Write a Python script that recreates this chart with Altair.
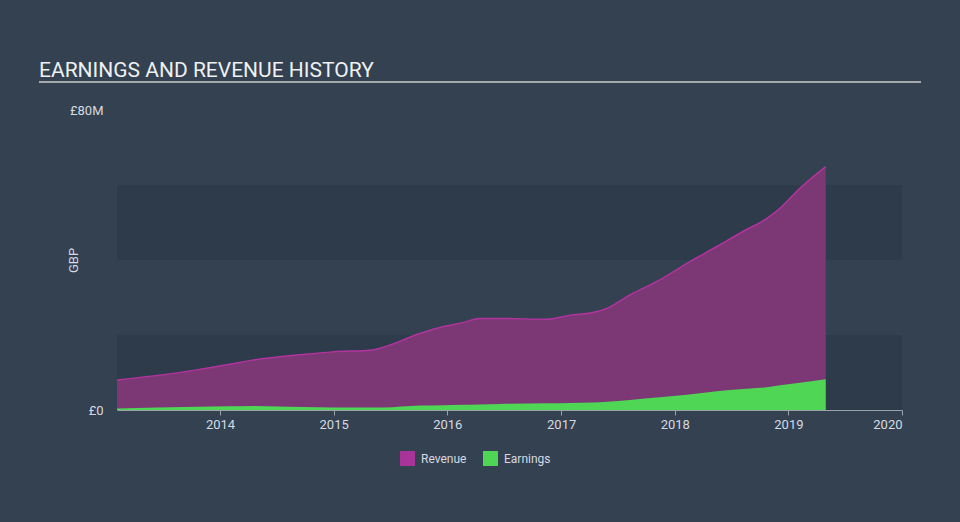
import altair as alt
import pandas as pd

dates = ["2013-02-04", "2013-10-19", "2014-02-01", "2014-04-16", "2014-09-24", "2014-12-29",
         "2015-05-06", "2015-06-08", "2015-10-05", "2015-12-18", "2016-02-20", "2016-04-15",
         "2016-06-18", "2016-11-16", "2017-01-29", "2017-04-13", "2017-05-28", "2017-08-10",
         "2017-11-14", "2018-02-09", "2018-05-16", "2018-08-08", "2018-10-24", "2018-12-05",
         "2019-02-07", "2019-05-01"]
revenue = [8.0, 10.7, 12.2, 13.3, 14.8, 15.5, 16.0, 16.7, 20.4, 22.2, 23.3, 24.4,
           24.4, 24.2, 25.3, 26.0, 27.1, 30.7, 34.7, 39.1, 43.6, 47.6, 51.1, 53.8, 59.1, 64.9]
earnings = [0.4, 0.9, 1.0, 1.1, 0.8, 0.7, 0.7, 0.7, 1.2, 1.3, 1.4, 1.5,
            1.6, 1.8, 1.9, 2.0, 2.2, 2.7, 3.4, 4.1, 5.0, 5.6, 6.1, 6.6, 7.3, 8.2]
series_names = ["Revenue", "Earnings"]
series_colors = ["#a8349a", "#4fd655"]
band_lo = [0, 40]
band_hi = [20, 60]
year_ticks = ["2014-01-01", "2015-01-01", "2016-01-01", "2017-01-01",
              "2018-01-01", "2019-01-01", "2020-01-01"]
x_domain = ["2013-02-04", "2020-01-01"]

M = 1_000_000
rows = []
for d, r, e in zip(dates, revenue, earnings):
    rows.append({"date": d, "series": "Revenue", "value": r * M})
    rows.append({"date": d, "series": "Earnings", "value": e * M})
df = pd.DataFrame(rows)
bands = pd.DataFrame({"lo": [v * M for v in band_lo], "hi": [v * M for v in band_hi]})

W, H = 785, 300
LABEL = "#d6dae0"
GREY = "#9aa1a9"

xs = alt.Scale(domain=x_domain)
ys = alt.Scale(domain=[0, 80 * M], nice=False)
color = alt.Color("series:N",
                  scale=alt.Scale(domain=series_names, range=series_colors),
                  legend=alt.Legend(title=None, orient="none", direction="horizontal",
                                    legendX=283, legendY=341, symbolType="square",
                                    symbolSize=225, symbolStrokeWidth=0, symbolOpacity=1,
                                    labelColor=LABEL, labelFontSize=12, labelFont="Roboto",
                                    labelOffset=6, columnPadding=16))

band_layer = alt.Chart(bands).mark_rect(color="#2e3b4b").encode(
    x=alt.value(0), x2=alt.value(W),
    y=alt.Y("lo:Q", scale=ys), y2="hi:Q")

x_enc = alt.X("date:T", scale=xs,
              axis=alt.Axis(values=year_ticks, format="%Y", title=None, grid=False,
                            domainColor=GREY, tickColor=GREY, tickSize=5,
                            labelColor=LABEL, labelFontSize=13, labelFont="Roboto",
                            labelPadding=3))
y_enc = alt.Y("value:Q", scale=ys,
              axis=alt.Axis(values=[0, 80 * M], grid=False, domain=False, ticks=False,
                            labelExpr="datum.value == 0 ? '£0' : '£80M'",
                            labelColor=LABEL, labelFontSize=13, labelFont="Roboto",
                            labelPadding=14, title="GBP", titleColor=LABEL,
                            titleFontSize=13, titleFont="Roboto", titleFontWeight="normal",
                            titleX=-44, titleY=150, titleAngle=270,
                            titleAlign="center", titleBaseline="middle"))

rev_area = alt.Chart(df).transform_filter("datum.series == 'Revenue'").mark_area(
    interpolate="monotone", fillOpacity=1, fill="#7b3874").encode(
    x=x_enc, y=y_enc, color=color)
rev_line = alt.Chart(df).transform_filter("datum.series == 'Revenue'").mark_line(
    interpolate="monotone", color="#b3339f", strokeWidth=1.5).encode(
    x=alt.X("date:T", scale=xs), y=alt.Y("value:Q", scale=ys))
earn_area = alt.Chart(df).transform_filter("datum.series == 'Earnings'").mark_area(
    interpolate="monotone", fillOpacity=1).encode(
    x=alt.X("date:T", scale=xs), y=alt.Y("value:Q", scale=ys), color=color)

title_text = alt.Chart(pd.DataFrame({"t": ["EARNINGS AND REVENUE HISTORY"]})).mark_text(
    align="left", baseline="alphabetic", fontSize=21, font="Roboto",
    color="#eef0f2").encode(text="t:N", x=alt.value(-78), y=alt.value(-33))
title_rule = alt.Chart(pd.DataFrame({"t": [1]})).mark_rule(
    color="#a3a8ad", strokeWidth=2).encode(
    x=alt.value(-78), x2=alt.value(804), y=alt.value(-28))

chart = alt.layer(band_layer, rev_area, rev_line, earn_area, title_text, title_rule).properties(
    width=W, height=H,
    autosize=alt.AutoSizeParams(type="none"),
    padding={"left": 117, "top": 110, "right": 58, "bottom": 112},
    background="#334151",
).configure_view(stroke=None)

chart.save("out.html", embed_options={"renderer": "svg", "actions": False})
